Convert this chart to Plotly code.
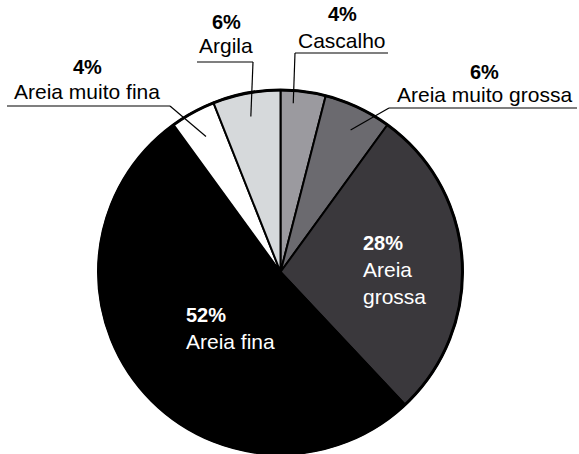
import math
import plotly.graph_objects as go

# ---- data ----
categories = ["Cascalho", "Areia muito grossa", "Areia grossa", "Areia fina", "Areia muito fina", "Argila"]
values = [4, 6, 28, 52, 4, 6]
pct_labels = ["4%", "6%", "28%", "52%", "4%", "6%"]

# ---- style ----
colors = ["#9b9a9f", "#6b6a6f", "#3a383c", "#000000", "#ffffff", "#d6d9db"]
W, H = 579, 454
CX, CY, R = 280.5, 272, 182
FONT = "Liberation Sans, Arial, sans-serif"
FS = 21

def px(x):
    return x / W

def py(y):
    return 1 - y / H

fig = go.Figure()
fig.add_trace(go.Pie(
    labels=categories, values=values, sort=False, direction="clockwise", rotation=0,
    marker=dict(colors=colors, line=dict(color="#000000", width=2)),
    textinfo="none", hoverinfo="label+percent", showlegend=False,
    domain=dict(x=[px(CX - R), px(CX + R)], y=[py(CY + R), py(CY - R)]),
))

# outer ring outline
fig.add_shape(type="circle", xref="paper", yref="paper",
              x0=px(CX - R), x1=px(CX + R), y0=py(CY + R), y1=py(CY - R),
              line=dict(color="#000000", width=3), fillcolor="rgba(0,0,0,0)")

# slice angles (clockwise from 12 o'clock) computed from data
total = sum(values)
starts, acc = [], 0
for v in values:
    starts.append(acc / total * 360)
    acc += v

def anchor(i, frac, rfrac):
    a = math.radians(starts[i] + values[i] / total * 360 * frac)
    return CX + R * rfrac * math.sin(a), CY - R * rfrac * math.cos(a)

# outside labels: (index, label centre x, pct y, name y, underline x0, x1, underline y, elbow side, anchor frac, radial frac)
outside = [
    (4, 87, 67, 91, 7, 170, 106, "right", 0.5, 0.85),
    (5, 226, 22, 45, 197, 253, 62, "right", 0.5, 0.87),
    (0, 342, 14, 40, 295, 388, 53, "left", 0.3, 0.93),
    (1, 484, 72, 95, 389, 577, 108, "left", 0.55, 0.87),
]
for i, lx, pyy, ny, u0, u1, uy, side, fr, rf in outside:
    fig.add_annotation(x=px(lx), y=py(pyy), xref="paper", yref="paper", text="<b>" + pct_labels[i] + "</b>",
                       showarrow=False, font=dict(family=FONT, size=FS - 1, color="#000"), xanchor="center", yanchor="middle")
    fig.add_annotation(x=px(lx), y=py(ny), xref="paper", yref="paper", text=categories[i],
                       showarrow=False, font=dict(family=FONT, size=FS, color="#000"), xanchor="center", yanchor="middle")
    fig.add_shape(type="line", xref="paper", yref="paper", x0=px(u0), x1=px(u1), y0=py(uy), y1=py(uy),
                  line=dict(color="#000", width=1.2))
    ex = u1 if side == "right" else u0
    ax, ay = anchor(i, fr, rf)
    fig.add_shape(type="line", xref="paper", yref="paper", x0=px(ex), x1=px(ax), y0=py(uy), y1=py(ay),
                  line=dict(color="#000", width=1.2))

# inside labels: (index, left x, [line y...], name lines)
inside = [
    (2, 361, [243, 269, 296], ["Areia", "grossa"]),
    (3, 184, [315, 341], ["Areia fina"]),
]
for i, lx, ys, names in inside:
    texts = ["<b>" + pct_labels[i] + "</b>"] + names
    for t, yy in zip(texts, ys):
        fig.add_annotation(x=px(lx), y=py(yy), xref="paper", yref="paper", text=t, showarrow=False,
                           font=dict(family=FONT, size=FS - (1 if t.startswith("<b>") else 0), color="#fff"),
                           xanchor="left", yanchor="middle")

fig.update_layout(width=W, height=H, margin=dict(l=0, r=0, t=0, b=0),
                  paper_bgcolor="#fff", plot_bgcolor="#fff")
fig.write_html("out.html", config={"displayModeBar": False},
               post_script="document.body.style.margin='0';document.body.style.overflow='hidden';")
